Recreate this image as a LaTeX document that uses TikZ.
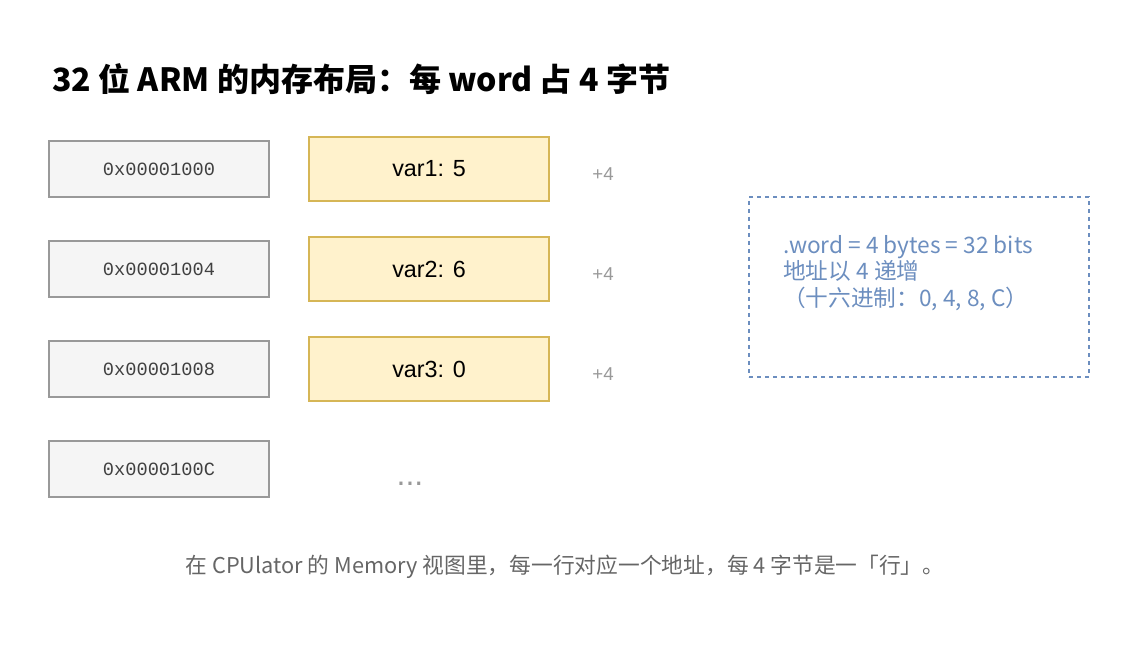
\documentclass[tikz,border=0pt]{standalone}
\usepackage{fontspec}
\setmainfont{Liberation Sans}
\setmonofont{Liberation Mono}
\newfontfamily\cjk{Noto Sans CJK SC}
\usetikzlibrary{positioning}
\definecolor{addrfill}{HTML}{F5F5F5}
\definecolor{addrline}{HTML}{999999}
\definecolor{varfill}{HTML}{FFF2CC}
\definecolor{varline}{HTML}{D6B656}
\definecolor{notecol}{HTML}{6C8EBF}
\definecolor{capcol}{HTML}{666666}
\tikzset{
  addr/.style={draw=addrline, fill=addrfill, line width=1.5pt, minimum width=165pt, minimum height=42pt,
    inner sep=0pt, font=\fontsize{14}{16}\ttfamily, text=black!75},
  var/.style={draw=varline, fill=varfill, line width=1.5pt, minimum width=180pt, minimum height=48pt,
    inner sep=0pt, font=\fontsize{17.5}{20}\selectfont},
  incr/.style={text=addrline, font=\fontsize{14}{16}\selectfont},
}
\begin{document}
\begin{tikzpicture}[x=0.75pt, y=-0.75pt]
    \useasboundingbox (0,0) rectangle (1140,648);
    % title
    \node[anchor=base west, inner sep=0pt, font=\fontsize{24}{28}\cjk\bfseries] (title) at (52,92)
      {32 位 ARM 的内存布局：每 word 占 4 字节};
    % address column
    \node[addr] (A0) at (159,169) {0x00001000};
    \node[addr] (A1) at (159,269) {0x00001004};
    \node[addr] (A2) at (159,369) {0x00001008};
    \node[addr] (A3) at (159,469) {0x0000100C};
    % values
    \node[var] (V0) at (429,169) {var1: 5};
    \node[var] (V1) at (429,269) {var2: 6};
    \node[var] (V2) at (429,369) {var3: 0};
    \node[incr, font=\fontsize{24}{24}\selectfont] (dots) at (410,484) {...};
    % increments
    \node[incr] (S0) at (603,174) {+4};
    \node[incr] (S1) at (603,274) {+4};
    \node[incr] (S2) at (603,374) {+4};
    % note
    \node[draw=notecol, dashed, line width=1.2pt, minimum width=255pt, minimum height=135pt] (note) at (919,287) {};
    \node[anchor=north west, text=notecol, align=left, inner sep=0pt,
      font=\fontsize{17}{20}\cjk] (noteText) at (783,235)
      {.word = 4 bytes = 32 bits\\地址以 4 递增\\（十六进制：0, 4, 8, C）};
    % caption
    \node[text=capcol, font=\fontsize{16.3}{19}\cjk] (caption) at (565,567)
      {在 CPUlator 的 Memory 视图里，每一行对应一个地址，每 4 字节是一「行」。};
\end{tikzpicture}
\end{document}
